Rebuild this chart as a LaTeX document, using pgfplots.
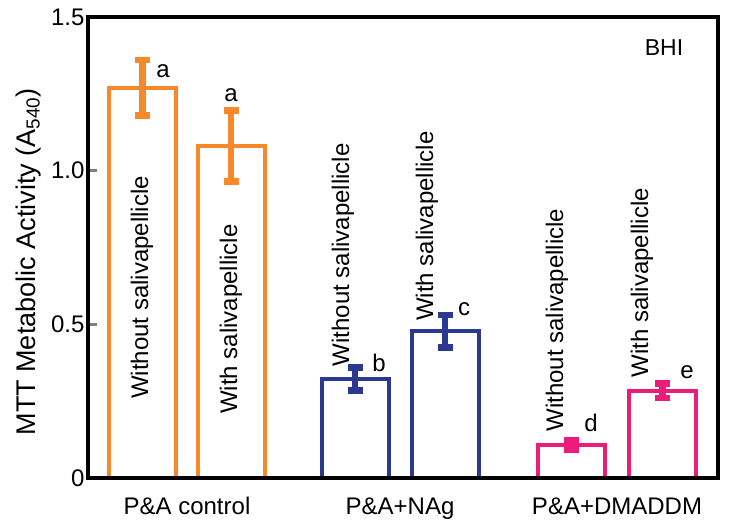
\documentclass[border=0pt]{standalone}
\usepackage{fontspec}
\setmainfont{Liberation Sans}
\usepackage{pgfplots}
\pgfplotsset{compat=1.18}
\definecolor{barorange}{HTML}{F7892A}
\definecolor{barnavy}{HTML}{2B3990}
\definecolor{barpink}{HTML}{EC1C79}

\begin{document}
\begin{tikzpicture}
\begin{axis}[
    scale only axis,
    width=630bp, height=461bp,
    xmin=88, xmax=718, ymin=0, ymax=1.5,
    clip=false,
    axis on top,
    axis line style={line width=3.5bp},
    xtick={187,400,617},
    xticklabels={P\&A control, P\&A+NAg, P\&A+DMADDM},
    major x tick style={draw=none},
    xticklabel style={yshift=-16bp},
    ytick={0,0.5,1,1.5},
    yticklabels={0,0.5,1.0,1.5},
    ytick pos=left,
    tick align=inside,
    major tick length=9bp,
    major y tick style={line width=2.5bp},
    tick label style={font=\fontsize{24bp}{27bp}\selectfont},
    ylabel={MTT Metabolic Activity (A\textsubscript{540})},
    ylabel style={at={(axis description cs:-0.0952,0.4687)}, anchor=center,
        font=\fontsize{27bp}{30bp}\selectfont},
    bars/.style={ybar, bar width=67, bar shift=0pt, line width=4bp,
        error bars/y dir=both, error bars/y explicit,
        error bars/error bar style={line width=6.5bp},
        error bars/error mark options={rotate=90, line width=6.5bp, mark size=7.5bp}},
]
\addplot[color=barorange, fill=white, bars] coordinates {(142.5,1.27) +- (0,0.09) (231,1.08) +- (0,0.115)};
\addplot[color=barnavy, fill=white, bars] coordinates {(355,0.322) +- (0,0.038) (445,0.478) +- (0,0.053)};
\addplot[color=barpink, fill=white, bars] coordinates {(571,0.107) +- (0,0.016) (662.5,0.284) +- (0,0.023)};

\begin{scope}[every node/.style={font=\fontsize{24bp}{27bp}\selectfont}]
\node[rotate=90] at (axis cs:142,0.62) {Without salivapellicle};
\node[rotate=90] at (axis cs:231,0.517) {With salivapellicle};
\node[rotate=90] at (axis cs:343,0.726) {Without salivapellicle};
\node[rotate=90] at (axis cs:427,0.82) {With salivapellicle};
\node[rotate=90] at (axis cs:557,0.514) {Without salivapellicle};
\node[rotate=90] at (axis cs:642,0.635) {With salivapellicle};
\node[anchor=base] at (axis cs:163,1.302) {a};
\node[anchor=base] at (axis cs:231,1.224) {a};
\node[anchor=base] at (axis cs:379,0.345) {b};
\node[anchor=base] at (axis cs:464,0.530) {c};
\node[anchor=base] at (axis cs:591,0.150) {d};
\node[anchor=base] at (axis cs:687,0.325) {e};
\node[anchor=base, font=\fontsize{23bp}{26bp}\selectfont] at (axis cs:664,1.376) {BHI};
\end{scope}
\end{axis}
\path (current axis.south west) ++(-88bp,-48bp);
\path (current axis.north east) ++(12bp,17bp);
\end{tikzpicture}
\end{document}
